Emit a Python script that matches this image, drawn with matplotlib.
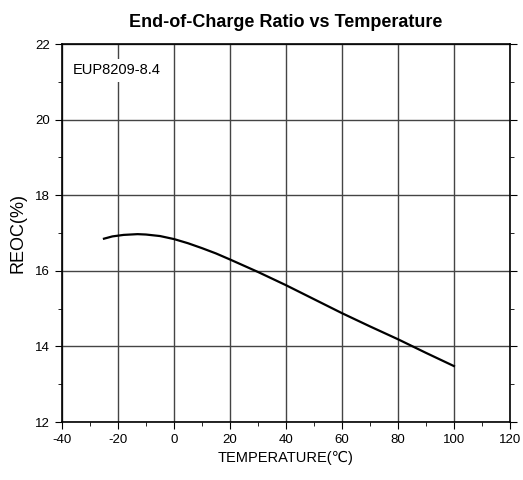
import numpy as np
import matplotlib.pyplot as plt
from matplotlib.ticker import MultipleLocator

# curve
temp = [-25, -22, -18, -13, -10, -5, 0, 5, 10, 15, 20, 30, 40, 50, 60, 70, 80, 90, 100]
reoc = [16.85, 16.91, 16.95, 16.97, 16.96, 16.92, 16.84, 16.73, 16.60, 16.46, 16.30,
        15.97, 15.62, 15.25, 14.88, 14.53, 14.19, 13.83, 13.48]

plt.rcParams['font.family'] = ['Liberation Sans', 'DejaVu Sans']
plt.rcParams['axes.unicode_minus'] = False

fig = plt.figure(figsize=(5.23, 4.8), dpi=100)
ax = fig.add_axes([0.1185, 0.1208, 0.8565, 0.7875])

ax.plot(temp, reoc, color='black', lw=1.6)

ax.set_xlim(-40, 120)
ax.set_ylim(12, 22)
ax.xaxis.set_major_locator(MultipleLocator(20))
ax.xaxis.set_minor_locator(MultipleLocator(10))
ax.yaxis.set_major_locator(MultipleLocator(2))
ax.yaxis.set_minor_locator(MultipleLocator(1))
ax.grid(True, which='major', color='#444444', lw=1.0)
ax.tick_params(which='both', direction='out', labelsize=9.5, top=True, right=True)
ax.tick_params(which='major', length=5)
ax.tick_params(which='minor', length=3)
ax.tick_params(axis='x', which='both', top=False)
for s in ax.spines.values():
    s.set_linewidth(1.2)

ax.set_xlabel('TEMPERATURE(℃)', fontsize=10.5)
ax.set_ylabel('REOC(%)', fontsize=13, labelpad=6)
ax.set_title('End-of-Charge Ratio vs Temperature', fontsize=13, fontweight='bold', pad=12)

ax.text(-36, 21.3, 'EUP8209-8.4', fontsize=10.5, ha='left', va='center',
        bbox=dict(fc='white', ec='none', pad=3))

plt.savefig('out.png', dpi=100)
